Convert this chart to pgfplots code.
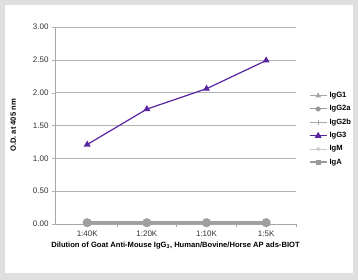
\documentclass[border=0pt]{standalone}
\usepackage{pgfplots}
\pgfplotsset{compat=1.18}
\usepackage{fontspec}
\setmainfont{Liberation Sans}
\definecolor{igg}{RGB}{88,36,160}
\begin{document}
\begin{tikzpicture}[x=1pt,y=1pt]
\fill[gray!25] (0,0) rectangle (358,280);
\fill[white] (5,7) rectangle (353,275);
\begin{axis}[
  at={(55pt,56pt)}, anchor=south west,
  scale only axis, width=241pt, height=197pt,
  xmin=-0.54, xmax=3.5, ymin=0, ymax=3,
  xtick={0,1,2,3}, xticklabels={1:40K,1:20K,1:10K,1:5K},
  minor xtick={0.5,1.5,2.5,3.5},
  ytick={0,0.5,1,1.5,2,2.5,3},
  yticklabel style={/pgf/number format/.cd,fixed,fixed zerofill,precision=2},
  /pgf/number format/assume math mode=true,
  tick label style={font=\fontsize{8}{9}\selectfont, text=black!80},
  axis x line*=bottom, axis y line*=left,
  axis line style={gray!70, line width=0.8pt},
  ymajorgrids, grid style={gray!60, line width=0.6pt},
  major x tick style={draw=none},
  minor x tick style={gray!70, line width=0.6pt},
  xtick align=outside, ytick align=outside,
  major y tick style={gray!60},
  major tick length=3pt, minor tick length=3pt,
  xlabel={\bfseries Dilution of Goat Anti-Mouse IgG\textsubscript{3}, Human/Bovine/Horse AP ads-BIOT},
  ylabel={\bfseries O.D. at 405 nm},
  label style={font=\fontsize{7.6}{9}\selectfont},
  xlabel style={yshift=1pt},
  ylabel style={yshift=10pt},
  legend style={at={(1.04,0.69)}, anchor=north west, draw=none, fill=none,
    font=\fontsize{7.6}{9}\selectfont\bfseries, row sep=2.5pt,
    legend cell align=left},
  clip=false,
]
\addplot[color=gray!70, line width=1pt, mark=triangle*, mark size=2.2pt, mark options={fill=gray!70}] coordinates {(0,0.02) (1,0.02) (2,0.02) (3,0.02)};
\addlegendentry{IgG1}
\addplot[color=gray!80, line width=1pt, mark=*, mark size=2pt, mark options={fill=gray!80}] coordinates {(0,0.02) (1,0.02) (2,0.02) (3,0.02)};
\addlegendentry{IgG2a}
\addplot[color=gray!70, line width=1pt, mark=+, mark size=2.2pt] coordinates {(0,0.02) (1,0.02) (2,0.02) (3,0.02)};
\addlegendentry{IgG2b}
\addplot[color=igg, line width=1.2pt, mark=triangle*, mark size=2.8pt, mark options={fill=igg}] coordinates {(0,1.21) (1,1.75) (2,2.06) (3,2.49)};
\addlegendentry{IgG3}
\addplot[color=gray!40, line width=1pt, mark=asterisk, mark size=2pt] coordinates {(0,0.02) (1,0.02) (2,0.02) (3,0.02)};
\addlegendentry{IgM}
\addlegendimage{color=gray!80, line width=1.6pt, mark=square*, mark size=1.8pt, mark options={fill=gray!80}}
\addlegendentry{IgA}
\addplot[forget plot, color=gray!75, line width=2.4pt, mark=*, mark size=3.3pt, mark options={fill=gray!75, draw=gray!75}] coordinates {(0,0.02) (1,0.02) (2,0.02) (3,0.02)};
\end{axis}
\end{tikzpicture}
\end{document}
